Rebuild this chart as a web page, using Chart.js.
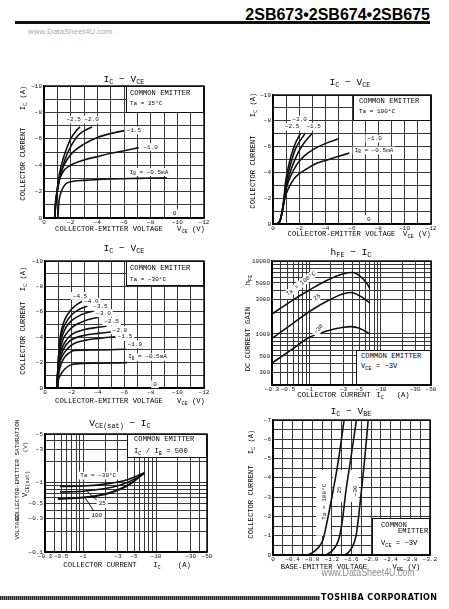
<!DOCTYPE html>
<html>
<head>
<meta charset="utf-8">
<title>2SB673 / 2SB674 / 2SB675</title>
<script src="https://cdn.jsdelivr.net/npm/chart.js@4.4.1/dist/chart.umd.min.js"></script>
<style>
    html, body { margin: 0; padding: 0; background: #fff; }
    #page { position: relative; width: 449px; height: 609px; overflow: hidden; background: #fff;
            font-family: "Liberation Mono", "DejaVu Sans Mono", monospace; color: #000; }
    #page canvas { position: absolute; }
    .t { position: absolute; white-space: nowrap; line-height: 1; font-size: 7.2px; transform: translate(-50%, -50%); }
    .t.l { transform: translate(0, -50%); }
    .t.v { transform: translate(-50%, -50%) rotate(-90deg); }
    .t.ttl { font-size: 9.5px; }
    .t.sm { font-size: 6px; }
    .t sub { font-size: 72%; vertical-align: -0.3em; line-height: 0; }
    .box { position: absolute; background: #fff; border: 1px solid #111; box-sizing: border-box; }
    #head { position: absolute; right: 19px; top: 6.5px; font: bold 16px/16px "Liberation Sans", Arial, sans-serif; color: #000; }
    #rule { position: absolute; left: 15px; top: 21px; width: 415px; height: 3px; background: #111; }
    #wm1 { position: absolute; left: 28px; top: 28px; font: 8px/8px "Liberation Sans", sans-serif; color: #aaa; }
    #wm2 { position: absolute; left: 367.5px; top: 571.5px; font: 11px/11px "Liberation Sans", sans-serif; color: #8a8a8a;
           transform: translate(-50%, -50%) scaleX(0.8); white-space: nowrap; }
    #hatch { position: absolute; left: 0; top: 596px; width: 320px; height: 4px;
             background: repeating-linear-gradient(90deg, #222 0 1px, #888 1px 2px); }
    #corp { position: absolute; left: 321px; top: 594px; font: bold 8px/8px "DejaVu Sans", sans-serif; letter-spacing: 0.45px; color: #000; white-space: nowrap; }
</style>
</head>
<body>
<div id="page">
    <div id="head">2SB673•2SB674•2SB675</div>
    <div id="rule"></div>
    <div id="wm1">www.DataSheet4U.com</div>
</div>
<script>
// PNP device: every current / voltage in the sheet is negative,
// the curves are stored as magnitudes and the ticks get a minus sign.

// Ic - Vce, Ta = 25C   [Vce (V), Ic (A)]
var ta25_ib05 = [[1.05, 0], [1.1, 1.0], [1.3, 2.0], [1.6, 2.55], [2, 2.75], [3, 2.85], [5, 2.95], [7, 3.0], [9.2, 3.05]];
var ta25_ib10 = [[0.8, 0], [0.85, 1.0], [1.0, 2.0], [1.2, 3.0], [1.5, 3.6], [2, 4.0], [3, 4.4], [4, 4.65], [5, 4.9], [6, 5.1], [7.1, 5.33]];
var ta25_ib15 = [[0.8, 0], [0.85, 1.0], [1.0, 2.2], [1.2, 3.2], [1.5, 4.0], [2, 4.8], [3, 5.6], [4, 6.1], [5, 6.4], [6.1, 6.64]];
var ta25_ib20 = [[0.8, 0], [0.9, 1.2], [1.1, 2.7], [1.3, 3.5], [1.6, 4.5], [2, 5.4], [2.5, 6.2], [3, 6.6], [3.6, 6.9]];
var ta25_ib25 = [[0.8, 0], [0.9, 1.3], [1.1, 3.0], [1.3, 4.0], [1.6, 5.0], [2, 6.0], [2.4, 6.6], [2.7, 6.9]];

// Ic - Vce, Ta = 100C
var ta100_ib05 = [[0.3, 0], [0.55, 0.3], [0.75, 1.2], [0.9, 2.0], [1.2, 2.8], [1.6, 3.5], [2, 3.9], [2.6, 4.3], [3.2, 4.65], [3.9, 4.9], [5, 5.25], [5.8, 5.5]];
var ta100_ib10 = [[0.3, 0], [0.55, 0.3], [0.75, 1.2], [0.9, 2.2], [1.05, 2.9], [1.3, 3.6], [1.8, 4.6], [2.4, 5.3], [3.1, 5.8], [4, 6.25], [5, 6.6]];
var ta100_ib15 = [[0.3, 0], [0.55, 0.3], [0.75, 1.3], [0.9, 2.3], [1.1, 3.3], [1.4, 4.3], [1.8, 5.3], [2.3, 6.2], [3.0, 7.05]];
var ta100_ib20 = [[0.3, 0], [0.55, 0.3], [0.75, 1.3], [0.9, 2.4], [1.0, 3.2], [1.3, 4.5], [1.7, 5.8], [2.45, 7.05]];
var ta100_ib25 = [[0.3, 0], [0.55, 0.3], [0.75, 1.3], [0.88, 2.5], [0.95, 3.2], [1.2, 4.6], [1.6, 6.0], [2.1, 7.05]];

// Ic - Vce, Ta = -30C
var tam30_ib05 = [[0.9, 0], [1.0, 0.6], [1.2, 1.1], [1.5, 1.5], [1.9, 1.8], [2.3, 1.9], [4, 1.95], [6.2, 2.0]];
var tam30_ib10 = [[0.9, 0], [1.0, 0.9], [1.1, 1.5], [1.4, 2.3], [1.8, 2.75], [2.2, 2.95], [4, 3.0], [6.1, 3.05]];
var tam30_ib15 = [[0.9, 0], [1.0, 1.2], [1.05, 1.7], [1.3, 2.5], [1.7, 3.1], [2.2, 3.5], [3, 3.75], [4, 3.9], [5.3, 4.04]];
var tam30_ib20 = [[0.9, 0], [1.0, 1.3], [1.05, 1.8], [1.25, 2.7], [1.6, 3.4], [2, 3.8], [3, 4.15], [4, 4.3], [5.15, 4.43]];
var tam30_ib25 = [[0.9, 0], [1.0, 1.8], [1.2, 2.9], [1.5, 3.6], [2, 4.2], [3, 4.6], [4, 4.78], [4.65, 4.88]];
var tam30_ib30 = [[0.9, 0], [1.0, 1.9], [1.15, 3.0], [1.35, 3.8], [1.7, 4.4], [2.2, 4.9], [3, 5.3], [4, 5.57]];
var tam30_ib35 = [[0.9, 0], [1.0, 1.9], [1.1, 3.2], [1.3, 4.1], [1.6, 4.8], [2, 5.3], [2.8, 5.8], [3.65, 6.07]];
var tam30_ib40 = [[0.9, 0], [1.0, 2.0], [1.1, 3.4], [1.25, 4.3], [1.5, 5.0], [2, 5.75], [2.6, 6.2], [3.2, 6.46]];
var tam30_ib45 = [[0.9, 0], [1.0, 2.0], [1.1, 3.6], [1.25, 4.6], [1.5, 5.4], [2, 6.2], [2.5, 6.65], [2.9, 6.86]];

// hFE - Ic, Vce = -3V   [Ic (A), hFE]
var hfe_ta100 = [[0.3, 1880], [0.55, 2800], [1, 4000], [1.8, 5500], [3, 6700], [4, 6950], [5, 6300], [6.3, 5000], [7, 4200]];
var hfe_ta25 = [[0.3, 870], [0.55, 1330], [1, 2030], [1.8, 2850], [3, 3550], [3.8, 3700], [5, 3350], [7, 2650]];
var hfe_tam30 = [[0.3, 400], [0.55, 600], [1, 900], [1.8, 1110], [3, 1235], [3.8, 1260], [5, 1200], [7, 1000]];

// Vce(sat) - Ic, Ic/Ib = 500   [Ic (A), Vce(sat) (V)]
var vsat_tam30 = [[0.48, 0.88], [1, 0.89], [2, 0.95], [3, 1.02], [4, 1.1], [5, 1.2], [6, 1.3], [6.9, 1.37]];
var vsat_ta25 = [[0.48, 0.73], [1, 0.75], [2, 0.82], [3, 0.9], [4, 1.0], [5, 1.12], [6, 1.25], [6.9, 1.37]];
var vsat_ta100 = [[0.45, 0.58], [1, 0.61], [2, 0.68], [3, 0.78], [4, 0.9], [5, 1.05], [6, 1.22], [6.9, 1.37]];

// Ic - Vbe, Vce = -3V   [Vbe (V), Ic (A)]
var vbe_ta100 = [[0.70, 0], [0.82, 0.15], [0.93, 0.4], [1.02, 0.8], [1.1, 1.7], [1.2, 3.0], [1.32, 4.7], [1.45, 7.0]];
var vbe_ta25 = [[1.07, 0], [1.2, 0.2], [1.3, 0.55], [1.36, 1.0], [1.42, 1.9], [1.48, 3.2], [1.58, 4.9], [1.7, 7.0]];
var vbe_tam30 = [[1.46, 0], [1.56, 0.2], [1.64, 0.55], [1.7, 1.1], [1.75, 2.1], [1.8, 3.3], [1.87, 5.0], [1.94, 7.0]];

// labelled ticks
var vce_ticks = [0, 2, 4, 6, 8, 10, 12];
var ic_ticks = [0, 2, 4, 6, 8, 10];
var icLog_ticks = [0.3, 0.5, 1, 3, 5, 10, 30, 50];
var hfe_ticks = [300, 500, 1000, 3000, 5000, 10000];
var vsat_ticks = [0.1, 0.3, 0.5, 1, 3, 5];
var vbe_ticks = [0, 0.4, 0.8, 1.2, 1.6, 2.0, 2.4, 2.8, 3.2];
var icVbe_ticks = [0, 1, 2, 3, 4, 5, 6, 7];

(function () {

    var page = document.getElementById("page");
    var INK = "#111", GRID = "#383838";
    var FONT = '"Liberation Mono", "DejaVu Sans Mono", monospace';

    Chart.defaults.font.family = FONT;
    Chart.defaults.font.size = 6;
    Chart.defaults.color = INK;

    function neg(v) {
        return v === 0 ? "0" : "\u2212" + (+v.toPrecision(4));
    }
    function neg1(v) {
        return v === 0 ? "0" : "\u2212" + v.toFixed(1);
    }
    function plain(v) {
        return String(v);
    }

    function linGrid(min, max, step) {
        var out = [];
        for (var i = 0; min + i * step <= max + 1e-9; i++) out.push(+(min + i * step).toFixed(4));
        return out;
    }

    function logGrid(min, max) {
        var out = [];
        for (var e = Math.floor(Math.log10(min)); e <= Math.ceil(Math.log10(max)); e++) {
            for (var m = 1; m < 10; m++) {
                var v = +(m * Math.pow(10, e)).toPrecision(3);
                if (v >= min - 1e-9 && v <= max + 1e-9) out.push(v);
            }
        }
        return out;
    }

    function axis(o) {
        var fmt = o.fmt || neg;
        return {
            type: o.log ? "logarithmic" : "linear",
            position: o.pos,
            min: o.min,
            max: o.max,
            afterBuildTicks: function (s) {
                s.ticks = o.grid.map(function (v) { return { value: v }; });
            },
            afterFit: function (s) {
                if (o.pos === "left") s.width = o.size; else s.height = o.size;
            },
            ticks: {
                autoSkip: false, maxRotation: 0, minRotation: 0,
                padding: o.pos === "left" ? 2 : 1,
                font: { size: 6, family: FONT }, color: INK,
                callback: function (v) {
                    return o.labels.some(function (l) { return Math.abs(l - v) < 1e-6; }) ? fmt(v) : "";
                }
            },
            grid: { color: GRID, lineWidth: 1, drawTicks: false },
            border: { color: "#000", width: 1.4 }
        };
    }

    function curve(pts, w) {
        return {
            data: pts.map(function (p) { return { x: p[0], y: p[1] }; }),
            showLine: true, fill: false,
            borderColor: INK, borderWidth: w || 1.6,
            pointRadius: 0, cubicInterpolationMode: "monotone"
        };
    }

    // "I_{B} = ..." -> runs of normal / subscript text
    function runs(text, size) {
        return text.split(/_\{([^}]*)\}/).map(function (s, i) {
            return { s: s, f: (i % 2 ? size * 0.75 : size) + "px " + FONT, dy: i % 2 ? size * 0.3 : 0 };
        });
    }

    function drawLabel(ctx, xs, ys, it) {
        var size = it.size || 6, w = 0, rs = runs(it.text, size);
        rs.forEach(function (r) { ctx.font = r.f; r.w = ctx.measureText(r.s).width; w += r.w; });
        ctx.save();
        ctx.translate(xs.getPixelForValue(it.x), ys.getPixelForValue(it.y));
        if (it.rot) ctx.rotate(it.rot * Math.PI / 180);
        if (it.bg) {
            ctx.fillStyle = "#fff";
            ctx.fillRect(-w / 2 - 2, -size * 0.65, w + 4, size * 1.3);
        }
        ctx.fillStyle = INK;
        ctx.textBaseline = "middle";
        var x = -w / 2;
        rs.forEach(function (r) { ctx.font = r.f; ctx.fillText(r.s, x, r.dy); x += r.w; });
        ctx.restore();
    }

    // blanks behind the curves, frame, leader lines and curve labels
    function sheet(cfg) {
        return {
            id: "sheet",
            beforeDatasetsDraw: function (chart) {
                var ctx = chart.ctx, xs = chart.scales.x, ys = chart.scales.y;
                ctx.save();
                ctx.fillStyle = "#fff";
                (cfg.blanks || []).forEach(function (b) {
                    var x0 = xs.getPixelForValue(b[0]), x1 = xs.getPixelForValue(b[1]);
                    var y0 = ys.getPixelForValue(b[2]), y1 = ys.getPixelForValue(b[3]);
                    ctx.fillRect(Math.min(x0, x1), Math.min(y0, y1), Math.abs(x1 - x0), Math.abs(y1 - y0));
                });
                ctx.restore();
            },
            afterDatasetsDraw: function (chart) {
                var ctx = chart.ctx, a = chart.chartArea, xs = chart.scales.x, ys = chart.scales.y;
                ctx.save();
                ctx.strokeStyle = "#000";
                ctx.lineWidth = 1.4;
                ctx.strokeRect(a.left, a.top, a.right - a.left, a.bottom - a.top);
                ctx.lineWidth = 0.9;
                (cfg.leaders || []).forEach(function (l) {
                    ctx.beginPath();
                    ctx.moveTo(xs.getPixelForValue(l[0]), ys.getPixelForValue(l[1]));
                    ctx.lineTo(xs.getPixelForValue(l[2]), ys.getPixelForValue(l[3]));
                    ctx.stroke();
                });
                (cfg.labels || []).forEach(function (it) { drawLabel(ctx, xs, ys, it); });
                ctx.restore();
            }
        };
    }

    // box = plot area on the page [left, top, right, bottom]
    function makeChart(box, cfg) {
        var L = 34, T = 8, R = 12, B = 14;
        var c = document.createElement("canvas");
        c.width = box[2] - box[0] + L + R;
        c.height = box[3] - box[1] + T + B;
        c.style.left = (box[0] - L) + "px";
        c.style.top = (box[1] - T) + "px";
        page.appendChild(c);
        cfg.x.pos = "bottom"; cfg.x.size = B;
        cfg.y.pos = "left"; cfg.y.size = L;
        return new Chart(c, {
            type: "scatter",
            data: { datasets: cfg.curves },
            options: {
                responsive: false, animation: false, devicePixelRatio: 1,
                layout: { padding: { left: 0, top: T, right: R, bottom: 0 } },
                plugins: { legend: { display: false }, tooltip: { enabled: false } },
                scales: { x: axis(cfg.x), y: axis(cfg.y) }
            },
            plugins: [sheet(cfg)]
        });
    }

    function put(html, x, y, cls) {
        var d = document.createElement("div");
        d.className = "t " + (cls || "");
        d.style.left = x + "px";
        d.style.top = y + "px";
        d.innerHTML = html;
        page.appendChild(d);
    }

    function box(x, y, w, h) {
        var d = document.createElement("div");
        d.className = "box";
        d.style.left = x + "px"; d.style.top = y + "px";
        d.style.width = w + "px"; d.style.height = h + "px";
        page.appendChild(d);
    }

    var vceAxis = { min: 0, max: 12, grid: linGrid(0, 12, 1), labels: vce_ticks };
    var icAxis = { min: 0, max: 10, grid: linGrid(0, 10, 1), labels: ic_ticks };
    function copy(o) { return Object.assign({}, o); }

    // ---- Ic - Vce, Ta = 25C
    makeChart([44, 86, 204, 218], {
        x: copy(vceAxis), y: copy(icAxis),
        curves: [curve(ta25_ib05), curve(ta25_ib10), curve(ta25_ib15), curve(ta25_ib20), curve(ta25_ib25)],
        labels: [
            { text: "\u22122.5 \u22122.0", x: 2.9, y: 7.45, bg: true },
            { text: "\u22121.5", x: 6.74, y: 6.63, bg: true },
            { text: "\u22121.0", x: 8.0, y: 5.38, bg: true },
            { text: "I_{B} = \u22120.5mA", x: 7.87, y: 3.48, bg: true },
            { text: "0", x: 9.8, y: 0.38, bg: true }
        ]
    });

    // ---- Ic - Vce, Ta = 100C
    makeChart([273, 95, 431, 224], {
        x: copy(vceAxis), y: copy(icAxis),
        curves: [curve(ta100_ib05), curve(ta100_ib10), curve(ta100_ib15), curve(ta100_ib20), curve(ta100_ib25)],
        labels: [
            { text: "\u22122.0", x: 2.03, y: 8.09, bg: true },
            { text: "\u22122.5", x: 1.45, y: 7.54, bg: true },
            { text: "\u22121.5", x: 3.09, y: 7.54, bg: true },
            { text: "\u22121.0", x: 7.72, y: 6.61, bg: true },
            { text: "I_{B} = \u22120.5mA", x: 7.67, y: 5.7, bg: true },
            { text: "0", x: 7.27, y: 0.39, bg: true }
        ]
    });

    // ---- Ic - Vce, Ta = -30C
    makeChart([45, 261, 204, 388], {
        x: copy(vceAxis), y: copy(icAxis),
        curves: [curve(tam30_ib05), curve(tam30_ib10), curve(tam30_ib15), curve(tam30_ib20), curve(tam30_ib25),
                 curve(tam30_ib30), curve(tam30_ib35), curve(tam30_ib40), curve(tam30_ib45)],
        labels: [
            { text: "\u22124.5", x: 2.64, y: 7.25, bg: true },
            { text: "\u22124.0", x: 3.5, y: 6.78, bg: true },
            { text: "\u22123.5", x: 4.19, y: 6.41, bg: true },
            { text: "\u22123.0", x: 4.42, y: 5.89, bg: true },
            { text: "\u22122.5", x: 5.03, y: 5.22, bg: true },
            { text: "\u22122.0", x: 5.66, y: 4.56, bg: true },
            { text: "\u22121.5", x: 6.04, y: 4.03, bg: true },
            { text: "\u22121.0", x: 6.79, y: 3.43, bg: true },
            { text: "I_{B} = \u22120.5mA", x: 7.74, y: 2.45, bg: true },
            { text: "0", x: 8.3, y: 0.3, bg: true }
        ]
    });

    // ---- hFE - Ic
    makeChart([272, 261, 431, 385], {
        x: { log: true, min: 0.3, max: 50, grid: logGrid(0.3, 50), labels: icLog_ticks },
        y: { log: true, min: 200, max: 10000, grid: logGrid(200, 10000), labels: hfe_ticks, fmt: plain },
        curves: [curve(hfe_ta100), curve(hfe_ta25), curve(hfe_tam30)],
        labels: [
            { text: "Ta = 100\u00b0C", x: 0.76, y: 4876, rot: -38, bg: true },
            { text: "25", x: 1.28, y: 3203, rot: -35, bg: true },
            { text: "\u221230", x: 1.35, y: 1164, rot: -50, bg: true }
        ]
    });

    // ---- Vce(sat) - Ic
    makeChart([45, 434, 207, 552], {
        x: { log: true, min: 0.3, max: 50, grid: logGrid(0.3, 50), labels: icLog_ticks },
        y: { log: true, min: 0.1, max: 5, grid: logGrid(0.1, 5), labels: vsat_ticks },
        curves: [curve(vsat_tam30), curve(vsat_ta25), curve(vsat_ta100, 2.1)],
        leaders: [[1.62, 0.53, 1.14, 0.74], [1.42, 0.38, 1.06, 0.61]],
        labels: [
            { text: "Ta = \u221230\u00b0C", x: 1.61, y: 1.26, bg: true },
            { text: "25", x: 1.83, y: 0.493, bg: true },
            { text: "100", x: 1.54, y: 0.342, bg: true }
        ]
    });

    // ---- Ic - Vbe
    makeChart([273, 420, 430, 555], {
        x: { min: 0, max: 3.2, grid: linGrid(0, 3.2, 0.2), labels: vbe_ticks, fmt: neg1 },
        y: { min: 0, max: 7, grid: linGrid(0, 7, 0.5), labels: icVbe_ticks },
        curves: [curve(vbe_ta100), curve(vbe_ta25), curve(vbe_tam30)],
        blanks: [[0.88, 1.18, 1.0, 4.4], [1.22, 1.75, 2.75, 4.4]],
        labels: [
            { text: "Ta = 100\u00b0C", x: 1.04, y: 2.76, rot: -90 },
            { text: "25", x: 1.36, y: 3.37, rot: -90 },
            { text: "\u221230", x: 1.67, y: 3.33, rot: -90 }
        ]
    });

    // ---- titles, axis names and condition boxes
    put("I<sub>C</sub> \u2212 V<sub>CE</sub>", 124, 80, "ttl");
    put("COLLECTOR-EMITTER VOLTAGE", 109, 230);
    put("V<sub>CE</sub> (V)", 191, 230);
    put("COLLECTOR CURRENT", 24, 164, "v");
    put("I<sub>C</sub> (A)", 24, 98, "v");
    box(126, 86, 78, 27);
    put("COMMON EMITTER", 130, 94, "l");
    put("Ta = 25\u00b0C", 130, 104, "l sm");

    put("I<sub>C</sub> \u2212 V<sub>CE</sub>", 350, 83, "ttl");
    put("COLLECTOR-EMITTER VOLTAGE", 341.5, 235);
    put("V<sub>CE</sub> (V)", 417, 235);
    put("COLLECTOR CURRENT", 254, 172, "v");
    put("I<sub>C</sub> (A)", 254, 105, "v");
    box(353, 95, 78, 26);
    put("COMMON EMITTER", 359, 101.7, "l");
    put("Ta = 100\u00b0C", 359, 112.3, "l sm");

    put("I<sub>C</sub> \u2212 V<sub>CE</sub>", 124, 249.3, "ttl");
    put("COLLECTOR-EMITTER VOLTAGE", 109, 402);
    put("V<sub>CE</sub> (V)", 191, 402);
    put("COLLECTOR CURRENT", 24, 338, "v");
    put("I<sub>C</sub> (A)", 24, 279, "v");
    box(126, 261, 78, 25);
    put("COMMON EMITTER", 130, 269.3, "l");
    put("Ta = \u221230\u00b0C", 130, 279.5, "l sm");

    put("h<sub>FE</sub> \u2212 I<sub>C</sub>", 351, 253, "ttl");
    put("COLLECTOR CURRENT", 334, 395.7);
    put("I<sub>C</sub>&nbsp;&nbsp;&nbsp;(A)", 393, 395.7);
    put("DC CURRENT GAIN", 249, 339, "v");
    put("h<sub>FE</sub>", 249, 280, "v");
    box(356, 350, 75, 35);
    put("COMMON EMITTER", 361, 357.3, "l");
    put("V<sub>CE</sub> = \u22123V", 361, 366.5, "l");

    put("V<sub>CE(sat)</sub> \u2212 I<sub>C</sub>", 120, 424.3, "ttl");
    put("COLLECTOR CURRENT", 100, 565.7);
    put("I<sub>C</sub>&nbsp;&nbsp;&nbsp;&nbsp;(A)", 172, 565.7);
    put("COLLECTOR-EMITTER SATURATION", 17.5, 470, "v sm");
    put("VOLTAGE", 17.5, 527, "v sm");
    put("(V)", 26, 447, "v sm");
    put("V<sub>CE(sat)</sub>", 26, 484, "v");
    box(127, 434, 80, 24);
    put("COMMON EMITTER", 134, 440, "l");
    put("I<sub>C</sub> / I<sub>B</sub> = 500", 134, 451.5, "l");

    put("I<sub>C</sub> \u2212 V<sub>BE</sub>", 351, 412, "ttl");
    put("BASE-EMITTER VOLTAGE", 324, 567.7);
    put("V<sub>BE</sub> (V)", 406.5, 567.7);
    put("COLLECTOR CURRENT", 252, 502, "v");
    put("I<sub>C</sub> (A)", 252, 442, "v");
    box(372, 518, 58, 37);
    put("COMMON", 381, 525.7, "l");
    put("EMITTER", 398, 532.3, "l");
    put("V<sub>CE</sub> = \u22123V", 381, 544, "l");

    // footer
    var wm = document.createElement("div");
    wm.id = "wm2"; wm.textContent = "www.DataSheet4U.com";
    page.appendChild(wm);
    var hatch = document.createElement("div");
    hatch.id = "hatch";
    page.appendChild(hatch);
    var corp = document.createElement("div");
    corp.id = "corp"; corp.textContent = "TOSHIBA CORPORATION";
    page.appendChild(corp);
})();
</script>
</body>
</html>
